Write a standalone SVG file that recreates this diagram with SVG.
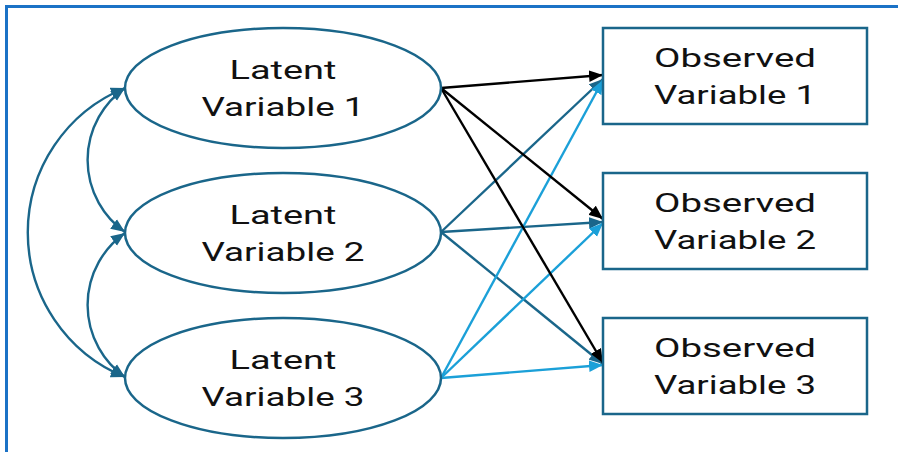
<svg xmlns="http://www.w3.org/2000/svg" width="898" height="452" viewBox="0 0 898 452">
  <style>
    .frame { fill: none; stroke: #1b72c6; stroke-width: 3; }
    .latent ellipse { fill: #fff; stroke: #1a668a; stroke-width: 2.5; }
    .observed rect { fill: #fff; stroke: #1a668a; stroke-width: 2.5; }
    text { font-family: Roboto, "Liberation Sans", sans-serif; font-size: 25px; fill: #111; text-anchor: middle; }
    .edge { fill: none; stroke-width: 2.4; }
    .dark { stroke: #1a668a; }
    .black { stroke: #000; }
    .light { stroke: #1ba0d8; }
  </style>
  <defs>
    <marker id="ah-dark" markerUnits="userSpaceOnUse" markerWidth="14" markerHeight="12" refX="12" refY="5" orient="auto-start-reverse" viewBox="0 0 12 10">
      <path d="M0,0 L12,5 L0,10 Z" fill="#1a668a"/>
    </marker>
    <marker id="ah-black" markerUnits="userSpaceOnUse" markerWidth="14" markerHeight="12" refX="12" refY="5" orient="auto" viewBox="0 0 12 10">
      <path d="M0,0 L12,5 L0,10 Z" fill="#000"/>
    </marker>
    <marker id="ah-light" markerUnits="userSpaceOnUse" markerWidth="14" markerHeight="12" refX="12" refY="5" orient="auto" viewBox="0 0 12 10">
      <path d="M0,0 L12,5 L0,10 Z" fill="#1ba0d8"/>
    </marker>
  </defs>

  <!-- outer frame, open at right and bottom -->
  <path class="frame" d="M6.5,452 V6.5 H898"/>

  <g id="connectors">
    <!-- covariances between latent variables -->
    <path class="edge dark" d="M125,88 A156,156 0 0 0 125,377" marker-start="url(#ah-dark)" marker-end="url(#ah-dark)"/>
    <path class="edge dark" d="M125,88 A88,88 0 0 0 125,232" marker-start="url(#ah-dark)" marker-end="url(#ah-dark)"/>
    <path class="edge dark" d="M125,233 A88,88 0 0 0 125,377" marker-start="url(#ah-dark)" marker-end="url(#ah-dark)"/>

    <!-- loadings from latent variable 2 -->
    <path class="edge dark" d="M441,232 L603,79" marker-end="url(#ah-dark)"/>
    <path class="edge dark" d="M441,232 L603,222" marker-end="url(#ah-dark)"/>
    <path class="edge dark" d="M441,232 L603,364" marker-end="url(#ah-dark)"/>

    <!-- loadings from latent variable 3 -->
    <path class="edge light" d="M441,378 L603,80" marker-end="url(#ah-light)"/>
    <path class="edge light" d="M441,378 L603,223" marker-end="url(#ah-light)"/>
    <path class="edge light" d="M441,378 L603,365" marker-end="url(#ah-light)"/>

    <!-- loadings from latent variable 1 -->
    <path class="edge black" d="M441,88 L603,75" marker-end="url(#ah-black)"/>
    <path class="edge black" d="M441,88 L603,219" marker-end="url(#ah-black)"/>
    <path class="edge black" d="M441,88 L603,363" marker-end="url(#ah-black)"/>
  </g>

  <g id="latent1" class="latent">
    <ellipse cx="283" cy="88" rx="158" ry="60"/>
    <text x="283" y="79" textLength="107" lengthAdjust="spacingAndGlyphs">Latent</text>
    <text x="283" y="116" textLength="163" lengthAdjust="spacingAndGlyphs">Variable 1</text>
  </g>
  <g id="latent2" class="latent">
    <ellipse cx="283" cy="233" rx="158" ry="60"/>
    <text x="283" y="224" textLength="107" lengthAdjust="spacingAndGlyphs">Latent</text>
    <text x="283" y="261" textLength="163" lengthAdjust="spacingAndGlyphs">Variable 2</text>
  </g>
  <g id="latent3" class="latent">
    <ellipse cx="283" cy="378" rx="158" ry="60"/>
    <text x="283" y="369" textLength="107" lengthAdjust="spacingAndGlyphs">Latent</text>
    <text x="283" y="406" textLength="163" lengthAdjust="spacingAndGlyphs">Variable 3</text>
  </g>

  <g id="observed1" class="observed">
    <rect x="603" y="28" width="264" height="96"/>
    <text x="735" y="67" textLength="162" lengthAdjust="spacingAndGlyphs">Observed</text>
    <text x="735" y="104" textLength="162" lengthAdjust="spacingAndGlyphs">Variable 1</text>
  </g>
  <g id="observed2" class="observed">
    <rect x="603" y="173" width="264" height="96"/>
    <text x="735" y="212" textLength="162" lengthAdjust="spacingAndGlyphs">Observed</text>
    <text x="735" y="249" textLength="162" lengthAdjust="spacingAndGlyphs">Variable 2</text>
  </g>
  <g id="observed3" class="observed">
    <rect x="603" y="318" width="264" height="96"/>
    <text x="735" y="357" textLength="162" lengthAdjust="spacingAndGlyphs">Observed</text>
    <text x="735" y="394" textLength="162" lengthAdjust="spacingAndGlyphs">Variable 3</text>
  </g>
</svg>
